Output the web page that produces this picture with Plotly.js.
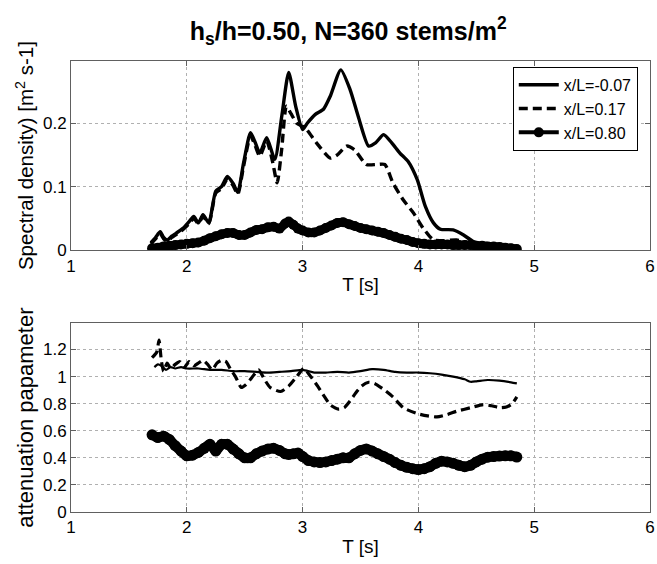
<!DOCTYPE html>
<html>
<head>
<meta charset="utf-8">
<script src="https://cdn.plot.ly/plotly-3.0.1.min.js"></script>
<style>html,body{margin:0;padding:0;background:#fff;}#chart{width:657px;height:564px;}</style>
</head>
<body>
<div id="chart"></div>
<script>
// ---- Top panel: spectral density ----
var topSolidT = [1.69,1.73,1.77,1.80,1.83,1.87,1.91,1.97,2.02,2.06,2.10,2.14,2.19,2.25,2.30,2.35,2.40,2.44,2.49,2.55,2.59,2.63,2.69,2.76,2.82,2.88,2.94,3.00,3.04,3.11,3.18,3.24,3.33,3.41,3.48,3.57,3.63,3.70,3.77,3.84,3.91,3.99,4.06,4.13,4.19,4.30,4.39,4.47,4.55,4.65,4.75,4.85];
var topSolidS = [0.012,0.02,0.029,0.02,0.016,0.022,0.027,0.035,0.045,0.053,0.043,0.056,0.043,0.093,0.10,0.116,0.105,0.091,0.137,0.185,0.17,0.153,0.177,0.143,0.211,0.28,0.227,0.19,0.20,0.214,0.222,0.243,0.284,0.253,0.211,0.164,0.169,0.182,0.169,0.153,0.14,0.111,0.069,0.043,0.033,0.032,0.024,0.014,0.009,0.006,0.004,0.002];

var topDashT = [1.69,1.73,1.77,1.80,1.83,1.87,1.91,1.97,2.02,2.06,2.10,2.14,2.19,2.25,2.30,2.35,2.40,2.44,2.49,2.55,2.59,2.63,2.69,2.74,2.78,2.82,2.86,2.90,2.95,3.02,3.12,3.24,3.30,3.38,3.45,3.55,3.64,3.71,3.78,3.87,3.96,4.04,4.13,4.21,4.33,4.42,4.50,4.60,4.70,4.85];
var topDashS = [0.01,0.018,0.026,0.018,0.014,0.02,0.025,0.033,0.042,0.05,0.042,0.053,0.042,0.09,0.097,0.112,0.102,0.088,0.132,0.18,0.165,0.148,0.172,0.14,0.106,0.16,0.227,0.215,0.2,0.193,0.169,0.145,0.15,0.164,0.158,0.135,0.135,0.135,0.106,0.079,0.058,0.035,0.016,0.015,0.016,0.012,0.01,0.006,0.004,0.002];

var markT = [1.70,1.75,1.80,1.85,1.90,1.95,2.00,2.05,2.10,2.15,2.20,2.25,2.30,2.35,2.40,2.45,2.50,2.55,2.60,2.65,2.70,2.75,2.80,2.85,2.88,2.92,2.96,3.00,3.05,3.10,3.15,3.20,3.25,3.30,3.35,3.40,3.45,3.50,3.55,3.60,3.65,3.70,3.75,3.80,3.85,3.90,3.95,4.00,4.05,4.10,4.15,4.20,4.25,4.30,4.35,4.40,4.45,4.50,4.55,4.60,4.65,4.70,4.75,4.80,4.85];
var topMarkS = [0.003,0.004,0.006,0.007,0.008,0.009,0.010,0.011,0.012,0.015,0.019,0.022,0.025,0.027,0.027,0.024,0.024,0.028,0.032,0.033,0.036,0.037,0.034,0.042,0.045,0.040,0.034,0.031,0.028,0.028,0.031,0.035,0.039,0.043,0.044,0.041,0.038,0.035,0.033,0.031,0.029,0.027,0.024,0.021,0.018,0.016,0.013,0.011,0.010,0.009,0.009,0.009,0.009,0.008,0.008,0.008,0.008,0.007,0.007,0.006,0.006,0.005,0.004,0.003,0.002];

// ---- Bottom panel: attenuation parameter ----
var botSolidT = [1.72,1.75,1.78,1.82,1.86,1.90,1.95,2.0,2.1,2.2,2.3,2.4,2.5,2.6,2.7,2.8,2.9,3.0,3.1,3.2,3.3,3.4,3.5,3.6,3.7,3.8,3.9,4.0,4.1,4.2,4.3,4.4,4.45,4.5,4.6,4.7,4.8,4.85];
var botSolidA = [1.07,1.09,1.08,1.05,1.07,1.06,1.07,1.06,1.06,1.05,1.05,1.04,1.04,1.035,1.03,1.035,1.04,1.05,1.03,1.03,1.035,1.03,1.04,1.055,1.05,1.035,1.03,1.03,1.025,1.015,1.0,0.98,0.962,0.965,0.975,0.97,0.958,0.95];

var botDashT = [1.70,1.74,1.76,1.78,1.80,1.83,1.86,1.90,1.94,1.98,2.02,2.06,2.10,2.14,2.18,2.22,2.26,2.30,2.34,2.38,2.42,2.47,2.51,2.55,2.62,2.67,2.72,2.81,2.88,2.95,3.01,3.07,3.13,3.19,3.24,3.31,3.36,3.41,3.46,3.51,3.57,3.62,3.70,3.78,3.87,3.99,4.08,4.16,4.25,4.33,4.45,4.56,4.63,4.71,4.76,4.81,4.85];
var botDashA = [1.14,1.18,1.27,1.12,1.04,1.10,1.06,1.09,1.11,1.07,1.11,1.08,1.10,1.12,1.09,1.05,1.10,1.12,1.11,1.05,1.0,0.92,0.94,0.98,1.05,0.98,0.92,0.89,0.93,1.0,1.06,1.0,0.93,0.85,0.79,0.76,0.77,0.82,0.88,0.93,0.958,0.95,0.905,0.85,0.77,0.727,0.71,0.702,0.72,0.744,0.77,0.793,0.785,0.77,0.775,0.80,0.85];

var botMarkA = [0.57,0.55,0.56,0.535,0.49,0.45,0.415,0.42,0.44,0.47,0.50,0.45,0.50,0.50,0.465,0.43,0.40,0.40,0.43,0.45,0.465,0.47,0.455,0.43,0.425,0.43,0.435,0.41,0.38,0.37,0.365,0.37,0.38,0.39,0.40,0.40,0.43,0.455,0.465,0.45,0.43,0.41,0.39,0.365,0.345,0.33,0.32,0.313,0.32,0.335,0.36,0.375,0.37,0.36,0.345,0.335,0.345,0.37,0.39,0.405,0.41,0.413,0.415,0.415,0.406];

var seriesNames = ['x/L=-0.07','x/L=0.17','x/L=0.80'];
var xTicks = [1,2,3,4,5,6];

var DASH = '9px,5px';
var traces = [
  // thick bands under the circle-marker series
  {x: markT, y: topMarkS, xaxis:'x', yaxis:'y', mode:'lines', showlegend:false,
   line:{color:'#000', width:9, shape:'spline', smoothing:0.6}},
  {x: markT, y: botMarkA, xaxis:'x2', yaxis:'y2', mode:'lines', showlegend:false,
   line:{color:'#000', width:10, shape:'spline', smoothing:0.6}},
  {x: topSolidT, y: topSolidS, xaxis:'x', yaxis:'y', mode:'lines', name: seriesNames[0],
   line:{color:'#000', width:3.4, shape:'spline', smoothing:0.6}},
  {x: topDashT, y: topDashS, xaxis:'x', yaxis:'y', mode:'lines', name: seriesNames[1],
   line:{color:'#000', width:3.4, dash:DASH, shape:'spline', smoothing:0.6}},
  {x: markT, y: topMarkS, xaxis:'x', yaxis:'y', mode:'lines+markers', name: seriesNames[2],
   line:{color:'#000', width:4, shape:'spline', smoothing:0.6},
   marker:{symbol:'circle', size:10, color:'#000'}},
  {x: botSolidT, y: botSolidA, xaxis:'x2', yaxis:'y2', mode:'lines', showlegend:false,
   line:{color:'#000', width:2.2, shape:'spline', smoothing:0.6}},
  {x: botDashT, y: botDashA, xaxis:'x2', yaxis:'y2', mode:'lines', showlegend:false,
   line:{color:'#000', width:3.2, dash:DASH, shape:'spline', smoothing:0.6}},
  {x: markT, y: botMarkA, xaxis:'x2', yaxis:'y2', mode:'markers', showlegend:false,
   marker:{symbol:'circle', size:11, color:'#000'}}
];

var fontFam = 'Liberation Sans, Arial, sans-serif';
function xa(domainAnchor) {
  return {
    range:[1,6], tickvals:xTicks, ticktext:xTicks.map(String),
    showgrid:true, gridcolor:'#b0b0b0', griddash:'dot', gridwidth:1,
    zeroline:false, showline:true, linecolor:'#606060', linewidth:1, mirror:'ticks',
    ticks:'inside', ticklen:5, tickcolor:'#606060',
    tickfont:{family:fontFam, size:17, color:'#000'},
    title:{text:'T [s]', font:{family:fontFam, size:19, color:'#000'}, standoff:3},
    anchor: domainAnchor
  };
}
var layout = {
  width:657, height:564,
  paper_bgcolor:'#fff', plot_bgcolor:'#fff',
  margin:{l:70.7, r:6.7, t:61, b:51.7},
  showlegend:true,
  title:{text:'<b>h<sub>s</sub>/h=0.50, N=360 stems/m<sup>2</sup></b>',
         font:{family:fontFam, size:25, color:'#000'},
         x:0.53, xref:'container', xanchor:'center', y:1-31/564, yref:'container', yanchor:'middle'},
  xaxis: xa('y'),
  yaxis: {domain:[0.5805,1], range:[0,0.298], tickvals:[0,0.1,0.2], ticktext:['0','0.1','0.2'],
    showgrid:true, gridcolor:'#b0b0b0', griddash:'dot', gridwidth:1,
    zeroline:false, showline:true, linecolor:'#606060', linewidth:1, mirror:'ticks',
    ticks:'inside', ticklen:5, tickcolor:'#606060',
    tickfont:{family:fontFam, size:17, color:'#000'},
    title:{text:'Spectral density) [m<sup>2</sup> s-1]', font:{family:fontFam, size:20.5, color:'#000'}, standoff:3},
    anchor:'x'},
  xaxis2: xa('y2'),
  yaxis2: {domain:[0,0.4188], range:[0,1.395], tickvals:[0,0.2,0.4,0.6,0.8,1,1.2], ticktext:['0','0.2','0.4','0.6','0.8','1','1.2'],
    showgrid:true, gridcolor:'#b0b0b0', griddash:'dot', gridwidth:1,
    zeroline:false, showline:true, linecolor:'#606060', linewidth:1, mirror:'ticks',
    ticks:'inside', ticklen:5, tickcolor:'#606060',
    tickfont:{family:fontFam, size:17, color:'#000'},
    title:{text:'attenuation papameter', font:{family:fontFam, size:22, color:'#000'}, standoff:3},
    anchor:'x2'},
  legend:{x:0.763, y:0.987, xanchor:'left', yanchor:'top', bgcolor:'#fff',
    bordercolor:'#000', borderwidth:1, font:{family:fontFam, size:16, color:'#000'},
    tracegroupgap:0, itemwidth:40}
};
Plotly.newPlot('chart', traces, layout, {staticPlot:true, displayModeBar:false});
</script>
</body>
</html>
